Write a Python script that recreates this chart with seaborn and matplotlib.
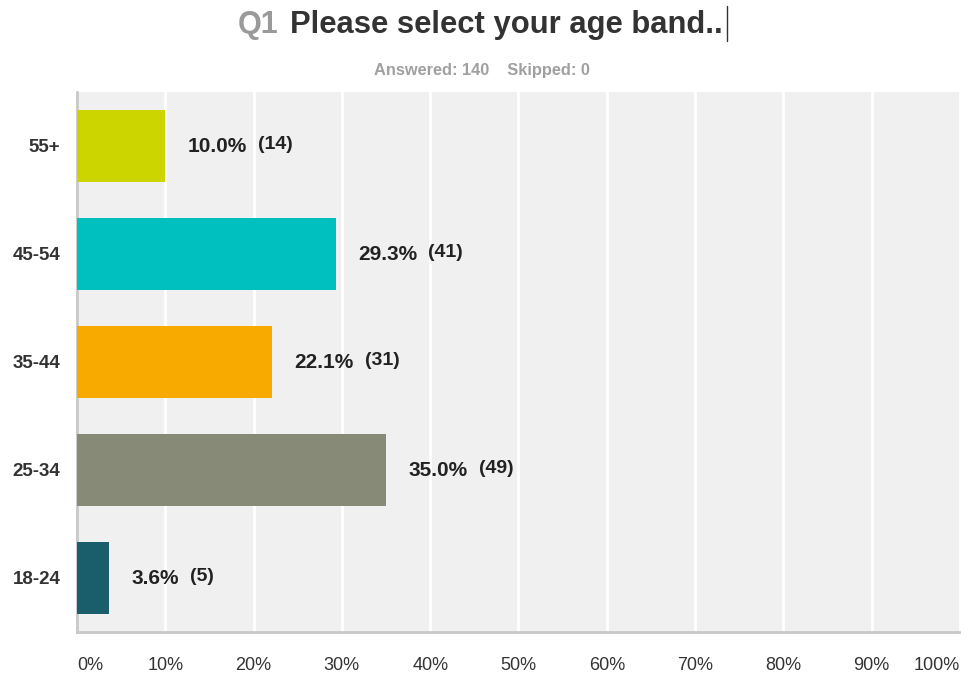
import matplotlib
matplotlib.use("Agg")
import matplotlib.pyplot as plt
import seaborn as sns
import pandas as pd
from matplotlib.lines import Line2D

categories = ["55+", "45-54", "35-44", "25-34", "18-24"]
percents = [10.0, 29.3, 22.1, 35.0, 3.6]
counts = [14, 41, 31, 49, 5]
colors = ["#CDD500", "#00BFBF", "#F8AA00", "#878A77", "#1A5E6B"]
xticks = [0, 10, 20, 30, 40, 50, 60, 70, 80, 90, 100]
xtick_labels = [f"{t}%" for t in xticks]

sns.set_theme(style="white")
plt.rcParams['font.family'] = ['Liberation Sans', 'DejaVu Sans']

df = pd.DataFrame({"cat": categories, "pct": percents, "n": counts})

fig = plt.figure(figsize=(9.62, 6.74), dpi=100)
ax = fig.add_axes([77/962, 42/674, 883/962, 540/674])
ax.set_facecolor("#F0F0F0")

sns.barplot(data=df, x="pct", y="cat", hue="cat", order=categories,
            hue_order=categories, palette=colors, orient="h", width=0.667,
            saturation=1, legend=False, ax=ax, zorder=3, linewidth=0)

ax.set_xlim(0, 100)
ax.set_ylim(4.5, -0.5)
ax.set_xticks(xticks)
ax.set_xticklabels(xtick_labels)
ax.grid(axis="x", color="white", linewidth=2, zorder=1)
ax.set_axisbelow(True)
ax.set_xlabel("")
ax.set_ylabel("")

for s in ["top", "right"]:
    ax.spines[s].set_visible(False)
for s in ["left", "bottom"]:
    ax.spines[s].set_color("#C8C8C8")
    ax.spines[s].set_linewidth(2)

ax.tick_params(axis="x", length=0, pad=18, labelsize=13, labelcolor="#333333")
ax.tick_params(axis="y", length=0, pad=12, labelsize=13.5, labelcolor="#333333")
for lbl in ax.get_yticklabels():
    lbl.set_fontweight("bold")
xl = ax.get_xticklabels()
xl[0].set_horizontalalignment("left")
xl[-1].set_horizontalalignment("right")

for i, (p, n) in enumerate(zip(percents, counts)):
    t = ax.annotate(f"{p:.1f}%", xy=(p, i), xytext=(16, 0), textcoords="offset points",
                    ha="left", va="center", fontsize=15, fontweight="bold",
                    color="#222222", zorder=4)
    ax.annotate(f"({n})", xy=(1, 0.58), xycoords=t, xytext=(8, 0),
                textcoords="offset points", ha="left", va="center",
                fontsize=14, fontweight="bold", color="#222222", zorder=4)

fig.text(238/962, 1 - 25/674, "Q1", fontsize=22, fontweight="bold", color="#9A9A9A",
         ha="left", va="center")
fig.text(290/962, 1 - 25/674, "Please select your age band..", fontsize=22.3,
         fontweight="bold", color="#333333", ha="left", va="center")
fig.add_artist(Line2D([727/962, 727/962], [1 - 6/674, 1 - 41/674],
                      transform=fig.transFigure, color="#333333", linewidth=1))
fig.text(482/962, 1 - 71/674, "Answered: 140    Skipped: 0", fontsize=11.8,
         fontweight="bold", color="#A0A0A0", ha="center", va="center")

fig.savefig("out.png", dpi=100, facecolor="white")
